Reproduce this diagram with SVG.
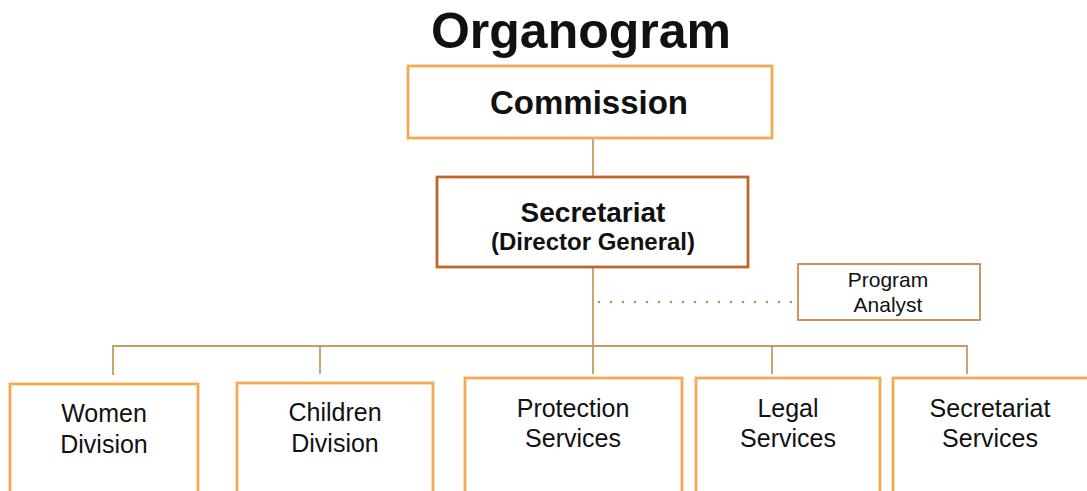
<svg xmlns="http://www.w3.org/2000/svg" width="1087" height="491" viewBox="0 0 1087 491">
<style>
.box{fill:#ffffff;stroke:#f4a954;stroke-width:2.8}
.dg{fill:#ffffff;stroke:#c2652b;stroke-width:2.8}
.pa{fill:#ffffff;stroke:#c98a4e;stroke-width:1.8}
.ln{fill:none;stroke:#c99a62;stroke-width:1.8}
.dot{fill:none;stroke:#c48a55;stroke-width:2.6;stroke-linecap:round;stroke-dasharray:0 12}
text{font-family:"Liberation Sans",Arial,sans-serif;fill:#111111;text-anchor:middle}
.b{font-weight:bold}
.n{font-size:25px}
</style>
<rect width="1087" height="491" fill="#ffffff"/>
<text x="581" y="48" class="b" font-size="50">Organogram</text>
<g id="connectors">
<line class="ln" x1="593" y1="138" x2="593" y2="177"/>
<line class="ln" x1="593" y1="267" x2="593" y2="346"/>
<line class="dot" x1="599" y1="302" x2="793" y2="302"/>
<polyline class="ln" points="113,375 113,346 967,346 967,374"/>
<line class="ln" x1="320" y1="346" x2="320" y2="374"/>
<line class="ln" x1="593" y1="346" x2="593" y2="374"/>
<line class="ln" x1="772" y1="346" x2="772" y2="374"/>
</g>
<g id="commission">
<rect class="box" x="408" y="66" width="364" height="72"/>
<text x="589" y="114" class="b" font-size="33">Commission</text>
</g>
<g id="secretariat">
<rect class="dg" x="437" y="177" width="311" height="90"/>
<text x="593" y="222" class="b" font-size="28">Secretariat</text>
<text x="593" y="250" class="b" font-size="24">(Director General)</text>
</g>
<g id="program-analyst">
<rect class="pa" x="798" y="264" width="182" height="56"/>
<text x="888" y="287" font-size="21">Program</text>
<text x="888" y="312" font-size="21">Analyst</text>
</g>
<g id="women-division">
<rect class="box" x="10" y="384" width="188" height="112"/>
<text x="104" y="422" class="n">Women</text>
<text x="104" y="453" class="n">Division</text>
</g>
<g id="children-division">
<rect class="box" x="237" y="383" width="196" height="112"/>
<text x="335" y="421" class="n">Children</text>
<text x="335" y="452" class="n">Division</text>
</g>
<g id="protection-services">
<rect class="box" x="465" y="378" width="217" height="117"/>
<text x="573" y="417" class="n">Protection</text>
<text x="573" y="447" class="n">Services</text>
</g>
<g id="legal-services">
<rect class="box" x="696" y="378" width="184" height="117"/>
<text x="788" y="417" class="n">Legal</text>
<text x="788" y="447" class="n">Services</text>
</g>
<g id="secretariat-services">
<rect class="box" x="893" y="378" width="200" height="117"/>
<text x="990" y="417" class="n">Secretariat</text>
<text x="990" y="447" class="n">Services</text>
</g>
</svg>
